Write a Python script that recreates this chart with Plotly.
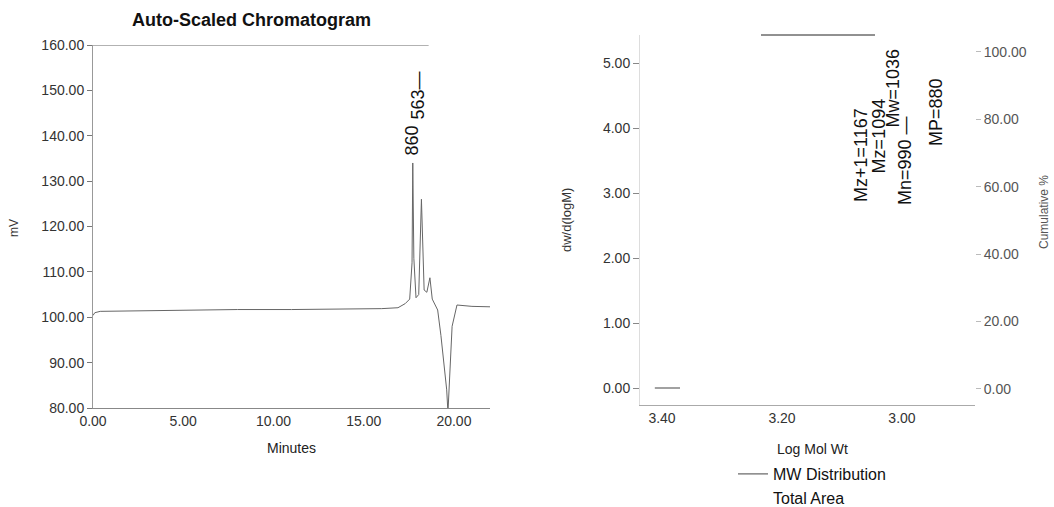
import math
import plotly.graph_objects as go

# ---------------- Data: chromatogram (left) ----------------
time_min = [0.0, 0.1, 0.4, 2.0, 5.0, 8.0, 11.0, 14.0, 16.0, 16.9, 17.3, 17.55,
            17.68, 17.72, 17.78, 17.9, 18.05, 18.2, 18.35, 18.5, 18.67, 18.8,
            18.94, 19.1, 19.28, 19.45, 19.6, 19.67, 19.75, 19.9, 20.17, 21.0, 22.0]
signal_mv = [100.4, 101.0, 101.3, 101.4, 101.6, 101.7, 101.7, 101.8, 101.9, 102.1, 103.0, 104.0,
             112.0, 134.0, 113.0, 104.3, 105.0, 126.0, 106.0, 105.5, 108.7, 104.0,
             103.0, 101.6, 96.0, 90.0, 84.0, 79.0, 85.0, 98.0, 102.7, 102.4, 102.3]
peak_time = [17.67, 18.02]
peak_label = ["860", "563—"]
peak_label_mv = [138.9, 148.9]
time_ticks = [0, 5, 10, 15, 20]
mv_ticks = [80, 90, 100, 110, 120, 130, 140, 150, 160]

# ---------------- Data: MW distribution (right) ----------------
mw_logm = [3.412, 3.392, 3.370]
mw_dwdlogm = [0.0, 0.0, 0.0]
area_logm = [3.412, 3.370]
area_cum = [0.0, 0.0]
stat_names = ["Mz+1", "Mz", "Mw", "Mn", "MP"]
stat_values = [1167, 1094, 1036, 990, 880]
stat_suffix = ["", "", "", " —", ""]
stat_label_y = [3.58, 3.88, 4.62, 3.50, 4.25]
logm_ticks = [3.40, 3.20, 3.00]
dw_ticks = [0, 1, 2, 3, 4, 5]
cum_ticks = [0, 20, 40, 60, 80, 100]

W, H = 1054, 507
FONT = "Liberation Sans, Arial, sans-serif"


def px(x):
    return x / W


def py(y):
    return 1 - y / H


fig = go.Figure()

fig.add_trace(go.Scatter(x=time_min, y=signal_mv, mode="lines",
                         line=dict(color="#666666", width=1),
                         xaxis="x", yaxis="y", showlegend=False))

fig.add_trace(go.Scatter(x=mw_logm, y=mw_dwdlogm, mode="lines", name="MW Distribution",
                         line=dict(color="#555555", width=1.1),
                         xaxis="x2", yaxis="y2"))
fig.add_trace(go.Scatter(x=area_logm, y=area_cum, mode="lines", name="Total Area",
                         line=dict(color="rgba(0,0,0,0)", width=1),
                         xaxis="x2", yaxis="y3"))

tickfont = dict(family=FONT, size=14, color="#333333")

fig.update_layout(
    width=W, height=H, autosize=False,
    margin=dict(l=0, r=0, t=0, b=0, pad=0, autoexpand=False),
    paper_bgcolor="white", plot_bgcolor="white",
    font=dict(family=FONT, color="#222222"),
    xaxis=dict(domain=[px(93), px(490)], range=[0, 22], anchor="y",
               tickvals=time_ticks, ticktext=[f"{v:.2f}" for v in time_ticks],
               ticks="", showgrid=False, zeroline=False, automargin=False,
               showline=True, linecolor="#888888", linewidth=1, tickfont=tickfont),
    yaxis=dict(domain=[py(408), py(45)], range=[80, 160], anchor="x",
               tickvals=mv_ticks, ticktext=[f"{v:.2f}" for v in mv_ticks],
               ticks="outside", ticklen=5, tickcolor="#777777",
               showgrid=False, zeroline=False, automargin=False,
               showline=True, linecolor="#999999", linewidth=1, tickfont=tickfont),
    xaxis2=dict(domain=[px(640), px(975)], range=[3.4367, 2.8783], anchor="y2",
                tickvals=logm_ticks, ticktext=[f"{v:.2f}" for v in logm_ticks],
                ticks="", showgrid=False, zeroline=False, automargin=False,
                showline=True, linecolor="#aaaaaa", linewidth=1, tickfont=tickfont),
    yaxis2=dict(domain=[py(405), py(35)], range=[-0.2615, 5.4308], anchor="x2",
                tickvals=dw_ticks, ticktext=[f"{v:.2f}" for v in dw_ticks],
                ticks="outside", ticklen=6, tickcolor="#888888",
                showgrid=False, zeroline=False, automargin=False,
                showline=True, linecolor="#dddddd", linewidth=1, tickfont=tickfont),
    yaxis3=dict(overlaying="y2", side="right", anchor="x2",
                range=[-4.75, 105.04],
                tickvals=cum_ticks, ticktext=[f"{v:.2f}" for v in cum_ticks],
                ticks="outside", ticklen=5, tickcolor="#bbbbbb",
                showgrid=False, zeroline=False, automargin=False,
                showline=False, tickfont=dict(family=FONT, size=14, color="#555555")),
    legend=dict(x=px(733), y=py(457), xanchor="left", yanchor="top",
                font=dict(family=FONT, size=16, color="#111111"),
                bgcolor="rgba(0,0,0,0)", tracegroupgap=0),
)

# frame top lines (partially printed in the original)
fig.add_shape(type="line", xref="x", yref="y", x0=0, x1=18.6, y0=160, y1=160,
              line=dict(color="#666666", width=1))
fig.add_shape(type="line", xref="x2", yref="paper", x0=3.235, x1=3.045, y0=py(35), y1=py(35),
              line=dict(color="#222222", width=1))


def text_ann(x, y, text, size, color="#222222", angle=0, xref="paper", yref="paper"):
    return dict(x=x, y=y, xref=xref, yref=yref, text=text, textangle=angle,
                xanchor="center", yanchor="middle", showarrow=False,
                font=dict(family=FONT, size=size, color=color))


ann = [
    text_ann(px(251), py(20), "<b>Auto-Scaled Chromatogram</b>", 18, "#111111"),
    text_ann(px(291), py(448), "Minutes", 14),
    text_ann(px(14), py(228), "mV", 12, "#333333", -90),
    text_ann(px(812), py(449), "Log Mol Wt", 14),
    text_ann(px(566), py(220), "dw/d(logM)", 13, "#333333", -90),
    text_ann(px(1044), py(212), "Cumulative %", 12, "#555555", -90),
]

# peak labels
for t, lab, yv in zip(peak_time, peak_label, peak_label_mv):
    ann.append(text_ann(t, yv, lab, 18, "#111111", -90, "x", "y"))

# MW statistics labels
for nm, val, suf, yv in zip(stat_names, stat_values, stat_suffix, stat_label_y):
    ann.append(text_ann(math.log10(val), yv, f"{nm}={val}{suf}", 18, "#111111", -90, "x2", "y2"))

fig.update_layout(annotations=ann)

fig.write_html("out.html")
